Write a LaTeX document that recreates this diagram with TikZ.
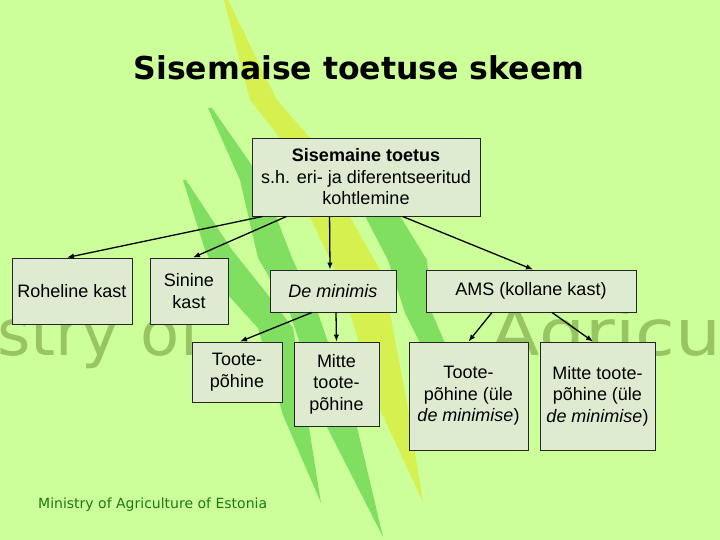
\documentclass[tikz,border=0pt]{standalone}
\usepackage{fontspec}
\setmainfont{Liberation Sans}
\newfontfamily\titlefont{DejaVu Sans}
\usetikzlibrary{arrows.meta,calc}
\definecolor{bg}{RGB}{204,255,153}
\definecolor{stripegreen}{RGB}{128,222,96}
\definecolor{stripeyellow}{RGB}{214,240,80}
\definecolor{boxfill}{RGB}{223,235,208}
\definecolor{wm}{RGB}{152,196,98}
\definecolor{footgreen}{RGB}{30,120,20}
\begin{document}
\begin{tikzpicture}[x=1pt,y=-1pt,
  box/.style={draw=black!85, fill=boxfill, line width=0.9pt, align=center, inner sep=0pt,
    font=\fontsize{18}{21.5}\selectfont},
  conn/.style={-{Latex[length=7pt,width=5.5pt]}, line width=1.3pt, draw=black}]
\fill[bg] (0,0) rectangle (720,540);
\useasboundingbox (0,0) rectangle (720,540);
\begin{scope}
\clip (0,0) rectangle (720,540);
% watermark
\node[anchor=base west, text=wm, inner sep=0pt, font=\titlefont\fontsize{64}{64}\selectfont] (wma) at (-3,355) {stry of};
\node[anchor=base west, text=wm, inner sep=0pt, xscale=1.13, font=\titlefont\fontsize{64}{64}\selectfont] (wmb) at (490,355) {Agricu};
% stripes
\fill[stripeyellow] (224,0) -- (250,100) -- (280,138) -- (310,217) -- (335,270) -- (350,313) -- (377,403) -- (423,502)
  -- (407,403) -- (390,313) -- (380,270) -- (350,217) -- (310,138) -- (277,100) -- (228,0) -- cycle;
\fill[stripegreen] (208,108) -- (240,180) -- (258,258) -- (290,313) -- (327,427) -- (383,537)
  -- (357,427) -- (318,313) -- (292,258) -- (262,180) -- (212,108) -- cycle;
\fill[stripegreen] (183,180) -- (205,250) -- (228,295) -- (258,328) -- (283,415) -- (321,503)
  -- (307,415) -- (293,328) -- (264,290) -- (232,250) -- (186,180) -- cycle;
\fill[stripegreen] (340,150) -- (365,216) -- (388,260) -- (405,313) -- (420,343) -- (465,440)
  -- (470,440) -- (445,343) -- (432,313) -- (427,260) -- (400,216) -- (350,150) -- cycle;
\end{scope}
% title
\node[anchor=base, inner sep=0pt, font=\titlefont\bfseries\fontsize{31.5}{32}\selectfont] (title) at (359,80) {Sisemaise toetuse skeem};
% boxes
\node[box, minimum width=228pt, minimum height=78pt] (top) at (366,177)
  {\textbf{Sisemaine toetus}\\s.h. eri- ja diferentseeritud\\kohtlemine};
\node[box, minimum width=120pt, minimum height=66pt] (roh) at (72,291) {Roheline kast};
\node[box, minimum width=78pt, minimum height=66pt] (sin) at (189,291) {Sinine\\kast};
\node[box, minimum width=126pt, minimum height=42pt] (dem) at (333,291) {\textit{De minimis}};
\node[box, minimum width=210pt, minimum height=42pt] (ams) at (531,291) {AMS (kollane kast)};
\node[box, minimum width=90pt, minimum height=60pt] (toote) at (237,372) {Toote-\\põhine};
\node[box, minimum width=85pt, minimum height=84pt] (mitte) at (336.5,384) {Mitte\\toote-\\põhine};
\node[box, minimum width=119pt, minimum height=108pt] (tooteb) at (468.5,396) {Toote-\\põhine (üle\\\textit{de minimise})};
\node[box, minimum width=115pt, minimum height=108pt] (mitteb) at (597.5,396) {Mitte toote-\\põhine (üle\\\textit{de minimise})};
% connectors
\draw[conn] ($(top.south west)+(11,0)$) -- ($(roh.north)+(-5,0)$);
\draw[conn] ($(top.south west)+(35,0)$) -- ($(sin.north)+(4,0)$);
\draw[conn] ($(top.south west)+(78,0)$) -- ($(dem.north)+(-3,0)$);
\draw[conn] ($(top.south west)+(151,0)$) -- ($(ams.north)+(2,0)$);
\draw[conn] ($(dem.south)+(-21,0)$) -- ($(toote.north)+(3,0)$);
\draw[conn] ($(dem.south)+(3,0)$) -- (mitte.north);
\draw[conn] ($(ams.south)+(-39,0)$) -- (tooteb.north);
\draw[conn] ($(ams.south)+(21,0)$) -- ($(mitteb.north)+(-4.5,0)$);
% footer
\node[anchor=base west, inner sep=0pt, text=footgreen, font=\titlefont\fontsize{14}{14}\selectfont] (foot) at (38,508) {Ministry of Agriculture of Estonia};
\end{tikzpicture}
\end{document}
